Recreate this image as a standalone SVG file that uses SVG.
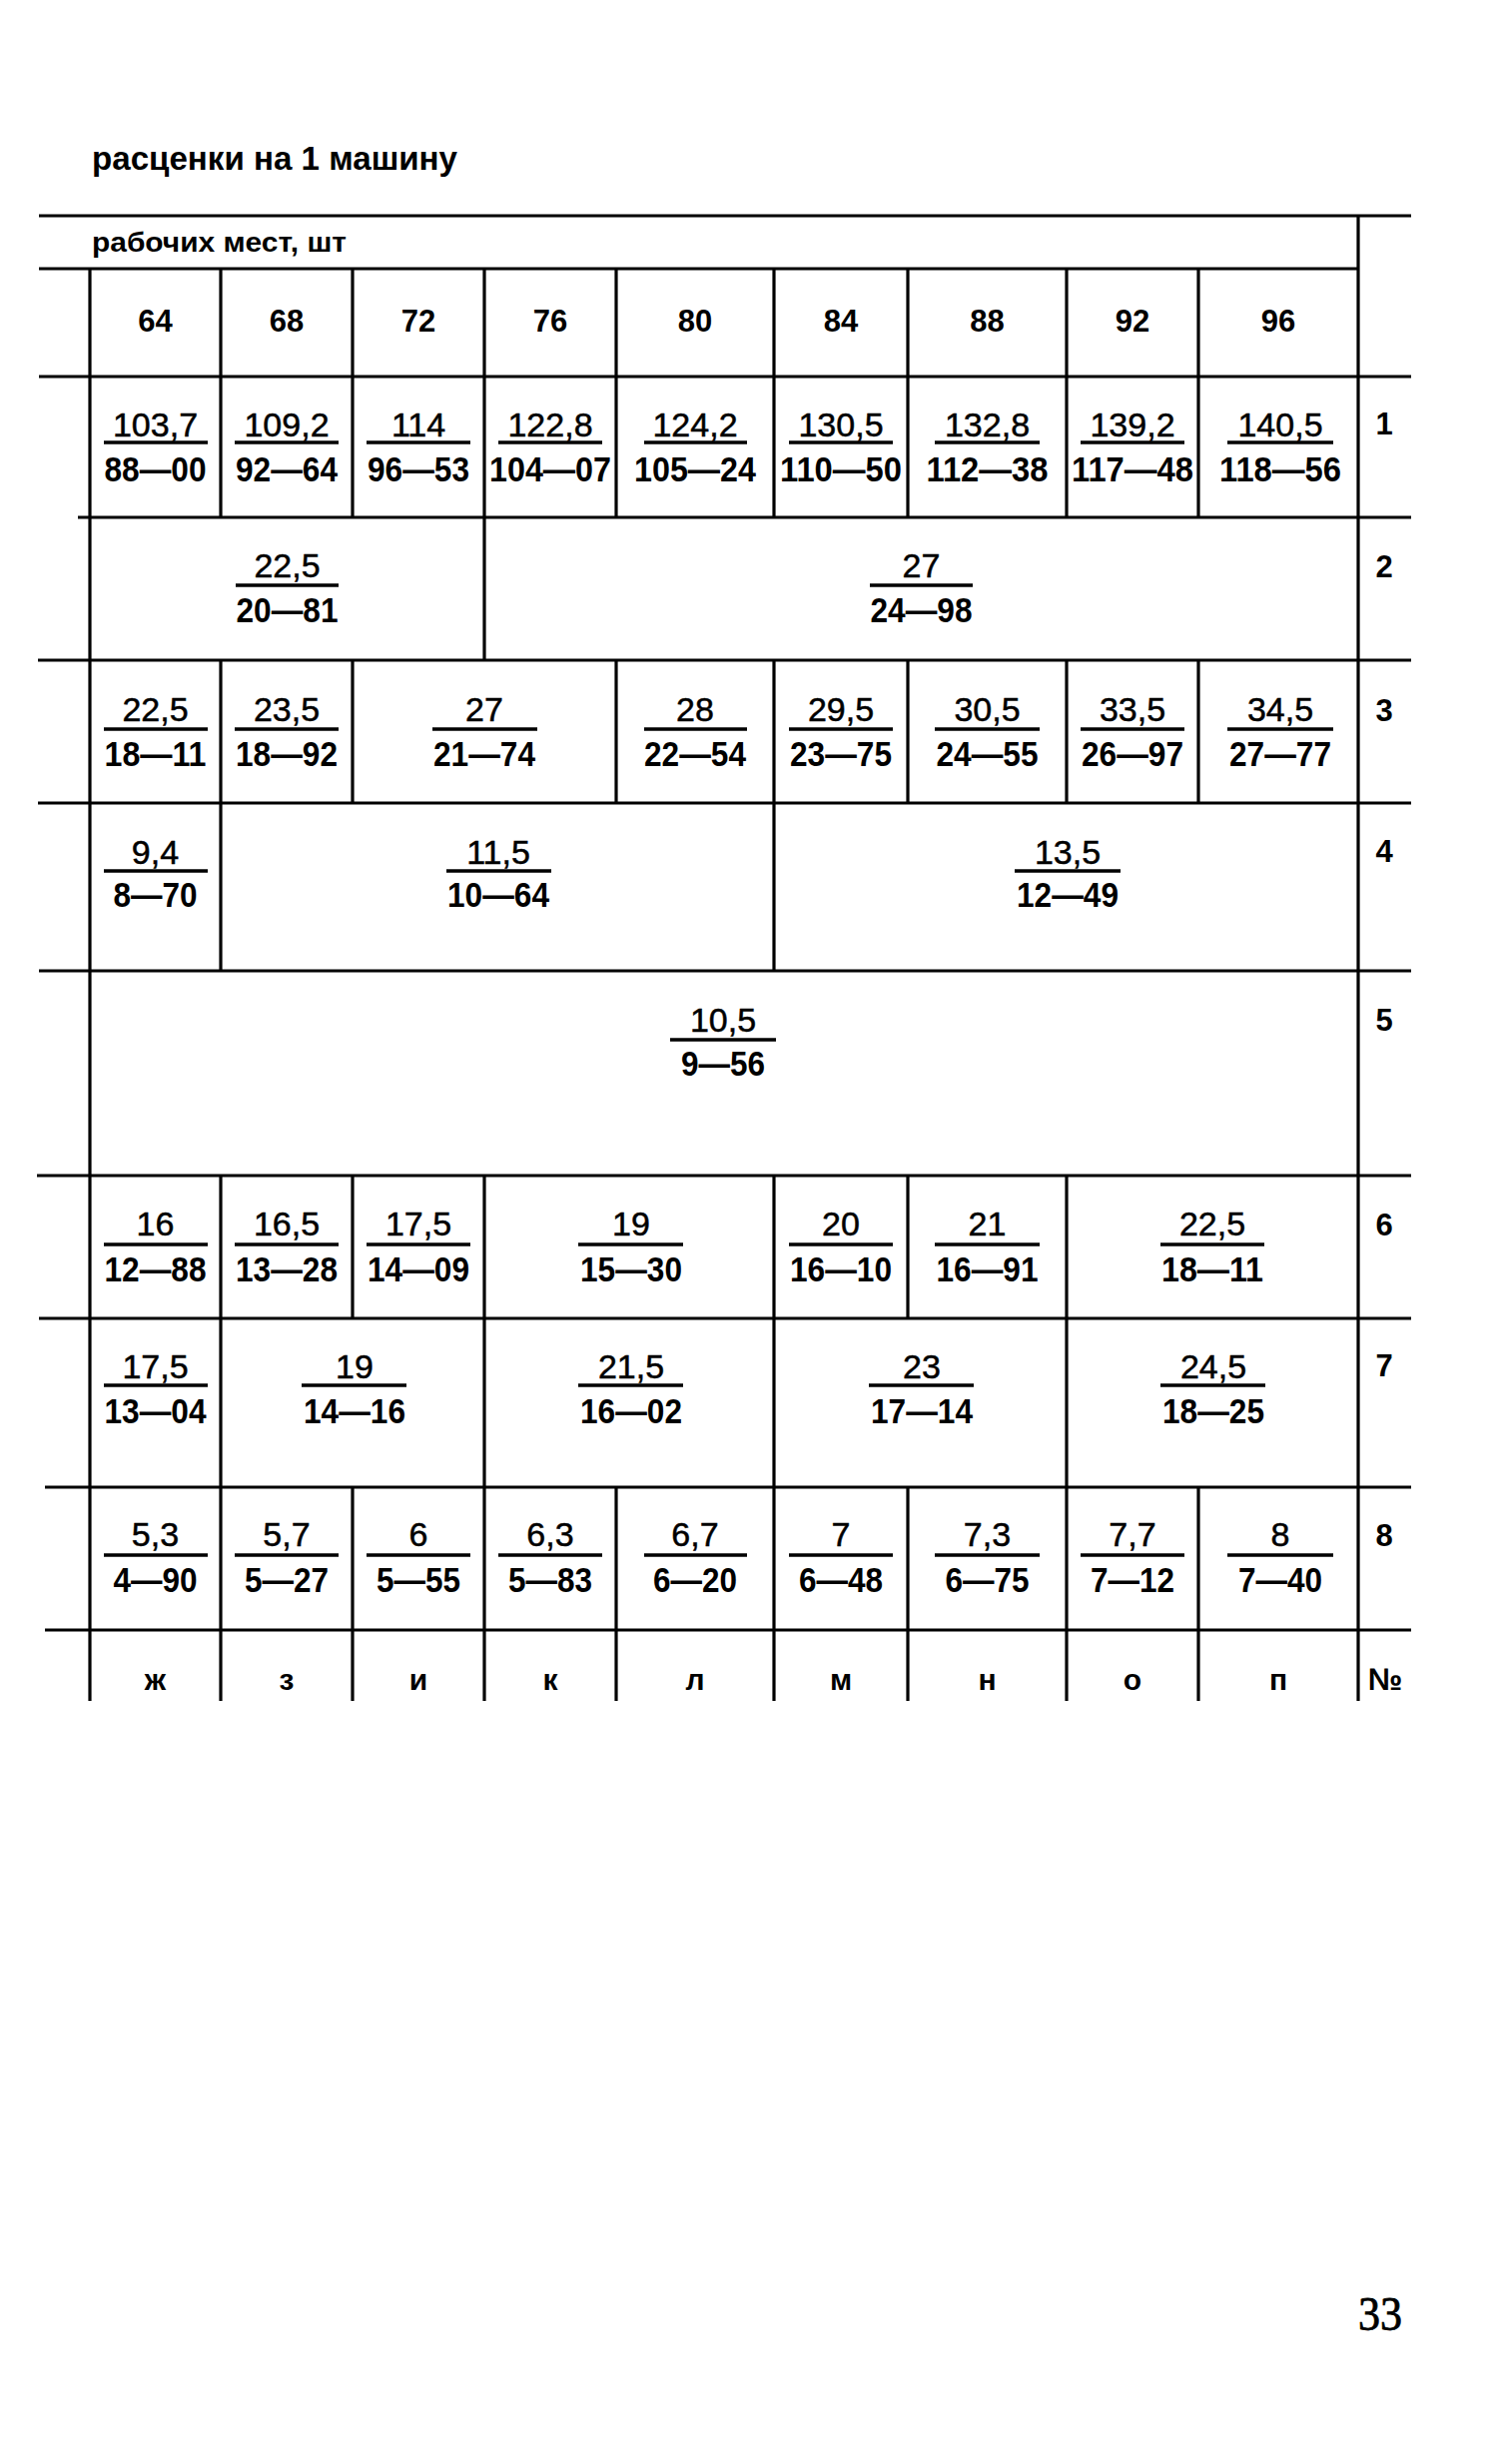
<svg xmlns="http://www.w3.org/2000/svg" width="1514" height="2459" viewBox="0 0 1514 2459">
<style>
.bg{fill:#fff}
.g line{stroke:#000;stroke-width:3.2;stroke-linecap:butt}
.fl{stroke:#000;stroke-width:3.4}
.num{font-family:"Liberation Sans",sans-serif;font-size:34px;text-anchor:middle;fill:#000;stroke:#000;stroke-width:0.5}
.den{font-family:"Liberation Sans",sans-serif;font-weight:bold;font-size:35px;text-anchor:middle;fill:#000}
.hd{font-family:"Liberation Sans",sans-serif;font-weight:bold;font-size:31px;text-anchor:middle;fill:#000}
.lt{font-family:"Liberation Sans",sans-serif;font-weight:bold;font-size:30px;text-anchor:middle;fill:#000}
.ttl{font-family:"Liberation Sans",sans-serif;font-weight:bold;fill:#000}
.pg{font-family:"Liberation Serif",serif;font-size:48px;fill:#000;stroke:#000;stroke-width:0.8}
</style>
<rect class="bg" x="0" y="0" width="1514" height="2459"/>
<text class="ttl" x="92" y="170" font-size="34" textLength="366" lengthAdjust="spacingAndGlyphs">расценки на 1 машину</text>
<text class="ttl" x="92" y="252" font-size="28" textLength="255" lengthAdjust="spacingAndGlyphs">рабочих мест, шт</text>

<g id="grid" class="g">
<line x1="39" y1="216" x2="1413" y2="216"/>
<line x1="39" y1="269" x2="1360" y2="269"/>
<line x1="39" y1="377" x2="1413" y2="377"/>
<line x1="78" y1="518" x2="1413" y2="518"/>
<line x1="38" y1="661" x2="1413" y2="661"/>
<line x1="38" y1="804" x2="1413" y2="804"/>
<line x1="39" y1="972" x2="1413" y2="972"/>
<line x1="37" y1="1177" x2="1413" y2="1177"/>
<line x1="39" y1="1320" x2="1413" y2="1320"/>
<line x1="45" y1="1489" x2="1413" y2="1489"/>
<line x1="45" y1="1632" x2="1413" y2="1632"/>
<line x1="90" y1="269" x2="90" y2="1703"/>
<line x1="1360" y1="216" x2="1360" y2="1703"/>
<line x1="221" y1="269" x2="221" y2="518"/>
<line x1="221" y1="661" x2="221" y2="972"/>
<line x1="221" y1="1177" x2="221" y2="1703"/>
<line x1="353" y1="269" x2="353" y2="518"/>
<line x1="353" y1="661" x2="353" y2="804"/>
<line x1="353" y1="1177" x2="353" y2="1320"/>
<line x1="353" y1="1489" x2="353" y2="1703"/>
<line x1="485" y1="269" x2="485" y2="661"/>
<line x1="485" y1="1177" x2="485" y2="1703"/>
<line x1="617" y1="269" x2="617" y2="518"/>
<line x1="617" y1="661" x2="617" y2="804"/>
<line x1="617" y1="1489" x2="617" y2="1703"/>
<line x1="775" y1="269" x2="775" y2="518"/>
<line x1="775" y1="661" x2="775" y2="972"/>
<line x1="775" y1="1177" x2="775" y2="1703"/>
<line x1="909" y1="269" x2="909" y2="518"/>
<line x1="909" y1="661" x2="909" y2="804"/>
<line x1="909" y1="1177" x2="909" y2="1320"/>
<line x1="909" y1="1489" x2="909" y2="1703"/>
<line x1="1068" y1="269" x2="1068" y2="518"/>
<line x1="1068" y1="661" x2="1068" y2="804"/>
<line x1="1068" y1="1177" x2="1068" y2="1703"/>
<line x1="1200" y1="269" x2="1200" y2="518"/>
<line x1="1200" y1="661" x2="1200" y2="804"/>
<line x1="1200" y1="1489" x2="1200" y2="1703"/>
</g>

<g id="header">
<text class="hd" x="155.5" y="332">64</text>
<text class="hd" x="287" y="332">68</text>
<text class="hd" x="419" y="332">72</text>
<text class="hd" x="551" y="332">76</text>
<text class="hd" x="696" y="332">80</text>
<text class="hd" x="842" y="332">84</text>
<text class="hd" x="988.5" y="332">88</text>
<text class="hd" x="1134" y="332">92</text>
<text class="hd" x="1280" y="332">96</text>
</g>

<g id="row1">
<g id="r1c1"><text class="num" x="155.5" y="437">103,7</text><line class="fl" x1="104" y1="443" x2="208" y2="443"/><text class="den" x="155.5" y="482" textLength="102" lengthAdjust="spacingAndGlyphs">88—00</text></g>
<g id="r1c2"><text class="num" x="287" y="437">109,2</text><line class="fl" x1="235" y1="443" x2="339" y2="443"/><text class="den" x="287" y="482" textLength="102" lengthAdjust="spacingAndGlyphs">92—64</text></g>
<g id="r1c3"><text class="num" x="419" y="437">114</text><line class="fl" x1="367" y1="443" x2="471" y2="443"/><text class="den" x="419" y="482" textLength="102" lengthAdjust="spacingAndGlyphs">96—53</text></g>
<g id="r1c4"><text class="num" x="551" y="437">122,8</text><line class="fl" x1="499" y1="443" x2="603" y2="443"/><text class="den" x="551" y="482" textLength="122" lengthAdjust="spacingAndGlyphs">104—07</text></g>
<g id="r1c5"><text class="num" x="696" y="437">124,2</text><line class="fl" x1="645" y1="443" x2="748" y2="443"/><text class="den" x="696" y="482" textLength="122" lengthAdjust="spacingAndGlyphs">105—24</text></g>
<g id="r1c6"><text class="num" x="842" y="437">130,5</text><line class="fl" x1="790" y1="443" x2="894" y2="443"/><text class="den" x="842" y="482" textLength="122" lengthAdjust="spacingAndGlyphs">110—50</text></g>
<g id="r1c7"><text class="num" x="988.5" y="437">132,8</text><line class="fl" x1="936" y1="443" x2="1041" y2="443"/><text class="den" x="988.5" y="482" textLength="122" lengthAdjust="spacingAndGlyphs">112—38</text></g>
<g id="r1c8"><text class="num" x="1134" y="437">139,2</text><line class="fl" x1="1082" y1="443" x2="1186" y2="443"/><text class="den" x="1134" y="482" textLength="122" lengthAdjust="spacingAndGlyphs">117—48</text></g>
<g id="r1c9"><text class="num" x="1282" y="437">140,5</text><line class="fl" x1="1229" y1="443" x2="1335" y2="443"/><text class="den" x="1282" y="482" textLength="122" lengthAdjust="spacingAndGlyphs">118—56</text></g>
<text class="hd" x="1386" y="435">1</text>
</g>

<g id="row2">
<g id="r2c1"><text class="num" x="287.5" y="578">22,5</text><line class="fl" x1="236" y1="586" x2="339" y2="586"/><text class="den" x="287.5" y="623" textLength="102" lengthAdjust="spacingAndGlyphs">20—81</text></g>
<g id="r2c2"><text class="num" x="922.5" y="578">27</text><line class="fl" x1="871" y1="586" x2="974" y2="586"/><text class="den" x="922.5" y="623" textLength="102" lengthAdjust="spacingAndGlyphs">24—98</text></g>
<text class="hd" x="1386" y="578">2</text>
</g>

<g id="row3">
<g id="r3c1"><text class="num" x="155.5" y="722">22,5</text><line class="fl" x1="104" y1="730" x2="208" y2="730"/><text class="den" x="155.5" y="767" textLength="102" lengthAdjust="spacingAndGlyphs">18—11</text></g>
<g id="r3c2"><text class="num" x="287" y="722">23,5</text><line class="fl" x1="235" y1="730" x2="339" y2="730"/><text class="den" x="287" y="767" textLength="102" lengthAdjust="spacingAndGlyphs">18—92</text></g>
<g id="r3c3"><text class="num" x="485" y="722">27</text><line class="fl" x1="433" y1="730" x2="538" y2="730"/><text class="den" x="485" y="767" textLength="102" lengthAdjust="spacingAndGlyphs">21—74</text></g>
<g id="r3c4"><text class="num" x="696" y="722">28</text><line class="fl" x1="645" y1="730" x2="748" y2="730"/><text class="den" x="696" y="767" textLength="102" lengthAdjust="spacingAndGlyphs">22—54</text></g>
<g id="r3c5"><text class="num" x="842" y="722">29,5</text><line class="fl" x1="790" y1="730" x2="894" y2="730"/><text class="den" x="842" y="767" textLength="102" lengthAdjust="spacingAndGlyphs">23—75</text></g>
<g id="r3c6"><text class="num" x="988.5" y="722">30,5</text><line class="fl" x1="936" y1="730" x2="1041" y2="730"/><text class="den" x="988.5" y="767" textLength="102" lengthAdjust="spacingAndGlyphs">24—55</text></g>
<g id="r3c7"><text class="num" x="1134" y="722">33,5</text><line class="fl" x1="1082" y1="730" x2="1186" y2="730"/><text class="den" x="1134" y="767" textLength="102" lengthAdjust="spacingAndGlyphs">26—97</text></g>
<g id="r3c8"><text class="num" x="1282" y="722">34,5</text><line class="fl" x1="1229" y1="730" x2="1335" y2="730"/><text class="den" x="1282" y="767" textLength="102" lengthAdjust="spacingAndGlyphs">27—77</text></g>
<text class="hd" x="1386" y="722">3</text>
</g>

<g id="row4">
<g id="r4c1"><text class="num" x="155.5" y="865">9,4</text><line class="fl" x1="104" y1="872" x2="208" y2="872"/><text class="den" x="155.5" y="908" textLength="84" lengthAdjust="spacingAndGlyphs">8—70</text></g>
<g id="r4c2"><text class="num" x="499" y="865">11,5</text><line class="fl" x1="447" y1="872" x2="552" y2="872"/><text class="den" x="499" y="908" textLength="102" lengthAdjust="spacingAndGlyphs">10—64</text></g>
<g id="r4c3"><text class="num" x="1069" y="865">13,5</text><line class="fl" x1="1016" y1="872" x2="1122" y2="872"/><text class="den" x="1069" y="908" textLength="102" lengthAdjust="spacingAndGlyphs">12—49</text></g>
<text class="hd" x="1386" y="863">4</text>
</g>

<g id="row5">
<g id="r5c1"><text class="num" x="724" y="1033">10,5</text><line class="fl" x1="671" y1="1041" x2="777" y2="1041"/><text class="den" x="724" y="1077" textLength="84" lengthAdjust="spacingAndGlyphs">9—56</text></g>
<text class="hd" x="1386" y="1032">5</text>
</g>

<g id="row6">
<g id="r6c1"><text class="num" x="155.5" y="1237">16</text><line class="fl" x1="104" y1="1246" x2="208" y2="1246"/><text class="den" x="155.5" y="1283" textLength="102" lengthAdjust="spacingAndGlyphs">12—88</text></g>
<g id="r6c2"><text class="num" x="287" y="1237">16,5</text><line class="fl" x1="235" y1="1246" x2="339" y2="1246"/><text class="den" x="287" y="1283" textLength="102" lengthAdjust="spacingAndGlyphs">13—28</text></g>
<g id="r6c3"><text class="num" x="419" y="1237">17,5</text><line class="fl" x1="367" y1="1246" x2="471" y2="1246"/><text class="den" x="419" y="1283" textLength="102" lengthAdjust="spacingAndGlyphs">14—09</text></g>
<g id="r6c4"><text class="num" x="632" y="1237">19</text><line class="fl" x1="579" y1="1246" x2="684" y2="1246"/><text class="den" x="632" y="1283" textLength="102" lengthAdjust="spacingAndGlyphs">15—30</text></g>
<g id="r6c5"><text class="num" x="842" y="1237">20</text><line class="fl" x1="790" y1="1246" x2="894" y2="1246"/><text class="den" x="842" y="1283" textLength="102" lengthAdjust="spacingAndGlyphs">16—10</text></g>
<g id="r6c6"><text class="num" x="988.5" y="1237">21</text><line class="fl" x1="936" y1="1246" x2="1041" y2="1246"/><text class="den" x="988.5" y="1283" textLength="102" lengthAdjust="spacingAndGlyphs">16—91</text></g>
<g id="r6c7"><text class="num" x="1214" y="1237">22,5</text><line class="fl" x1="1162" y1="1246" x2="1266" y2="1246"/><text class="den" x="1214" y="1283" textLength="102" lengthAdjust="spacingAndGlyphs">18—11</text></g>
<text class="hd" x="1386" y="1237">6</text>
</g>

<g id="row7">
<g id="r7c1"><text class="num" x="155.5" y="1380">17,5</text><line class="fl" x1="104" y1="1387" x2="208" y2="1387"/><text class="den" x="155.5" y="1425" textLength="102" lengthAdjust="spacingAndGlyphs">13—04</text></g>
<g id="r7c2"><text class="num" x="355" y="1380">19</text><line class="fl" x1="302" y1="1387" x2="407" y2="1387"/><text class="den" x="355" y="1425" textLength="102" lengthAdjust="spacingAndGlyphs">14—16</text></g>
<g id="r7c3"><text class="num" x="632" y="1380">21,5</text><line class="fl" x1="579" y1="1387" x2="684" y2="1387"/><text class="den" x="632" y="1425" textLength="102" lengthAdjust="spacingAndGlyphs">16—02</text></g>
<g id="r7c4"><text class="num" x="923" y="1380">23</text><line class="fl" x1="870" y1="1387" x2="975" y2="1387"/><text class="den" x="923" y="1425" textLength="102" lengthAdjust="spacingAndGlyphs">17—14</text></g>
<g id="r7c5"><text class="num" x="1215" y="1380">24,5</text><line class="fl" x1="1162" y1="1387" x2="1267" y2="1387"/><text class="den" x="1215" y="1425" textLength="102" lengthAdjust="spacingAndGlyphs">18—25</text></g>
<text class="hd" x="1386" y="1378">7</text>
</g>

<g id="row8">
<g id="r8c1"><text class="num" x="155.5" y="1548">5,3</text><line class="fl" x1="104" y1="1557" x2="208" y2="1557"/><text class="den" x="155.5" y="1594" textLength="84" lengthAdjust="spacingAndGlyphs">4—90</text></g>
<g id="r8c2"><text class="num" x="287" y="1548">5,7</text><line class="fl" x1="235" y1="1557" x2="339" y2="1557"/><text class="den" x="287" y="1594" textLength="84" lengthAdjust="spacingAndGlyphs">5—27</text></g>
<g id="r8c3"><text class="num" x="419" y="1548">6</text><line class="fl" x1="367" y1="1557" x2="471" y2="1557"/><text class="den" x="419" y="1594" textLength="84" lengthAdjust="spacingAndGlyphs">5—55</text></g>
<g id="r8c4"><text class="num" x="551" y="1548">6,3</text><line class="fl" x1="499" y1="1557" x2="603" y2="1557"/><text class="den" x="551" y="1594" textLength="84" lengthAdjust="spacingAndGlyphs">5—83</text></g>
<g id="r8c5"><text class="num" x="696" y="1548">6,7</text><line class="fl" x1="645" y1="1557" x2="748" y2="1557"/><text class="den" x="696" y="1594" textLength="84" lengthAdjust="spacingAndGlyphs">6—20</text></g>
<g id="r8c6"><text class="num" x="842" y="1548">7</text><line class="fl" x1="790" y1="1557" x2="894" y2="1557"/><text class="den" x="842" y="1594" textLength="84" lengthAdjust="spacingAndGlyphs">6—48</text></g>
<g id="r8c7"><text class="num" x="988.5" y="1548">7,3</text><line class="fl" x1="936" y1="1557" x2="1041" y2="1557"/><text class="den" x="988.5" y="1594" textLength="84" lengthAdjust="spacingAndGlyphs">6—75</text></g>
<g id="r8c8"><text class="num" x="1134" y="1548">7,7</text><line class="fl" x1="1082" y1="1557" x2="1186" y2="1557"/><text class="den" x="1134" y="1594" textLength="84" lengthAdjust="spacingAndGlyphs">7—12</text></g>
<g id="r8c9"><text class="num" x="1282" y="1548">8</text><line class="fl" x1="1229" y1="1557" x2="1335" y2="1557"/><text class="den" x="1282" y="1594" textLength="84" lengthAdjust="spacingAndGlyphs">7—40</text></g>
<text class="hd" x="1386" y="1548">8</text>
</g>

<g id="letters">
<text class="lt" x="155.5" y="1692">ж</text>
<text class="lt" x="287" y="1692">з</text>
<text class="lt" x="419" y="1692">и</text>
<text class="lt" x="551" y="1692">к</text>
<text class="lt" x="696" y="1692">л</text>
<text class="lt" x="842" y="1692">м</text>
<text class="lt" x="988.5" y="1692">н</text>
<text class="lt" x="1134" y="1692">о</text>
<text class="lt" x="1280" y="1692">п</text>
<text class="hd" x="1387" y="1692">№</text>
</g>

<text class="pg" x="1360" y="2333" textLength="44" lengthAdjust="spacingAndGlyphs">33</text>
</svg>
